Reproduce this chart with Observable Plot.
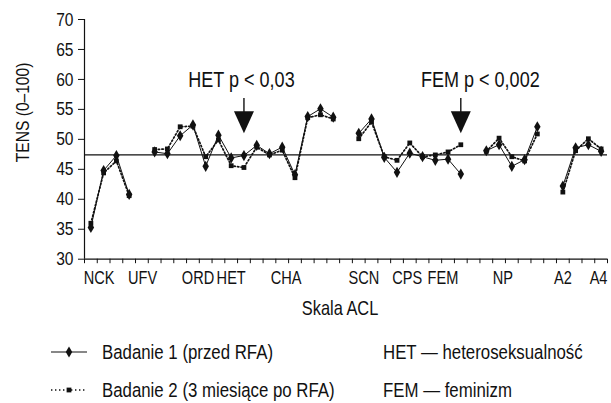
<!DOCTYPE html>
<html><head><meta charset="utf-8">
<script src="https://cdn.jsdelivr.net/npm/d3@7"></script>
<script src="https://cdn.jsdelivr.net/npm/@observablehq/plot@0.6"></script>
<style>
body{margin:0;background:#fff;font-family:"Liberation Sans",Arial,sans-serif;color:#111}
#wrap{position:relative;width:611px;height:403px;overflow:hidden;background:#fff}
#legend{position:absolute;left:0;top:330px;width:611px;height:73px;font-size:20.5px}
.item{position:absolute;display:flex;align-items:center;height:26px;white-space:nowrap}
.item svg{display:block}
.narrow{display:inline-block;transform:scaleX(0.82);transform-origin:left center}
</style></head><body><div id="wrap"><div id="chart"></div><div id="legend"></div></div>
<script>
// TENS (0–100) per ACL scale slot; null = gap between scale groups
const slots = [0,1,2,3,4,5,6,7,8,9,10,11,12,13,14,15,16,17,18,19,20,21,22,23,24,25,26,27,28,29,30,31,32,33,34,35,36,37,38,39,40];
const badanie1 = [35.3,44.8,47.3,40.8,null, 47.9,47.6,50.6,52.4,45.5,50.7,46.9,47.3,49.0,47.6,48.7,44.1,53.8,55.1,53.7,null, 51.0,53.4,47.0,44.5,47.7,47.1,46.5,46.7,44.2,null, 48.1,49.1,45.5,46.6,52.1,null, 42.2,48.6,49.1,48.0];
const badanie2 = [36.0,44.4,46.4,40.6,null, 48.3,48.4,52.1,52.2,47.1,49.9,45.6,45.3,48.7,47.4,48.2,43.6,53.6,54.1,53.4,null, 50.1,52.9,47.1,46.5,49.4,47.1,47.4,47.9,49.1,null, 48.0,50.2,47.1,46.4,50.9,null, 41.2,48.1,50.1,48.4];
const tickLabels = ["NCK","UFV","ORD","HET","CHA","SCN","CPS","FEM","NP","A2","A4"];
const tickLabelSlots = [0.65,4.05,8.4,11.0,15.3,21.4,24.8,27.6,32.3,37.0,39.8];
const yTicks = [30,35,40,45,50,55,60,65,70];
const referenceLine = 47.4;
const annotations = [{label:"HET p < 0,03", slot:12},{label:"FEM p < 0,002", slot:29}];
const seriesNames = ["Badanie 1 (przed RFA)","Badanie 2 (3 miesiące po RFA)"];
const glossary = ["HET — heteroseksualność","FEM — feminizm"];

const rows1 = slots.map((s,i)=>({slot:s, value:badanie1[i]}));
const rows2 = slots.map((s,i)=>({slot:s, value:badanie2[i]}));
const boundaries = slots.map(s=>s-0.5).concat([slots[slots.length-1]+0.5]);
const labelMap = new Map(tickLabelSlots.map((p,i)=>[p,tickLabels[i]]));

const downTriangle = {draw(ctx,size){const r=Math.sqrt(size/Math.PI);ctx.moveTo(-r,-1.1*r);ctx.lineTo(r,-1.1*r);ctx.lineTo(0,1.1*r);ctx.closePath();}};
const FONT = '"Liberation Sans",Arial,sans-serif';
const H = 330;
const ink = "#111";

const chart = Plot.plot({
  width:611, height:H,
  marginLeft:84, marginRight:4, marginTop:19, marginBottom:H-258.7,
  x:{domain:[-0.5,40.5]},
  y:{domain:[30,70]},
  style:{fontFamily:FONT, fontSize:"19px", color:ink, background:"#fff", overflow:"visible"},
  marks:[
    Plot.axisY(yTicks,{tickSize:6, tickPadding:5, label:null, fontSize:19, stroke:ink}),
    Plot.axisX(boundaries,{tickSize:4.5, tickFormat:()=>"", label:null, stroke:ink}),
    Plot.axisX(tickLabelSlots,{tickSize:0, tickPadding:12, tickFormat:d=>labelMap.get(d), label:null, fontSize:17.8}),
    Plot.ruleX([-0.5],{stroke:ink, strokeWidth:1.2}),
    Plot.ruleY([30],{stroke:ink, strokeWidth:1.2}),
    Plot.ruleY([referenceLine],{stroke:ink, strokeWidth:1.3}),
    Plot.line(rows2,{x:"slot", y:"value", stroke:ink, strokeWidth:1.7, strokeDasharray:"1.4,2.2"}),
    Plot.dot(rows2,{x:"slot", y:"value", symbol:"square", fill:ink, r:2.7}),
    Plot.line(rows1,{x:"slot", y:"value", stroke:ink, strokeWidth:1}),
    Plot.dot(rows1,{x:"slot", y:"value", symbol:"diamond", fill:ink, r:3.4}),
    Plot.ruleX(annotations,{x:"slot", y1:56.8, y2:54.4, stroke:ink, strokeWidth:1.4}),
    Plot.dot(annotations,{x:"slot", y:52.87, symbol:downTriangle, r:10, fill:ink}),
    Plot.text([annotations[0]],{x:"slot", y:59.95, text:"label", dx:-2.5, fontSize:22, lineAnchor:"middle", textAnchor:"middle", fill:ink}),
    Plot.text([annotations[1]],{x:"slot", y:59.95, text:"label", dx:19.5, fontSize:22, lineAnchor:"middle", textAnchor:"middle", fill:ink}),
    Plot.text(["TENS (0–100)"],{frameAnchor:"left", y:54.5, rotate:-90, dx:-62, fontSize:19, textAnchor:"middle", lineAnchor:"middle", fill:ink}),
    Plot.text(["Skala ACL"],{frameAnchor:"bottom", dy:49.5, dx:-6, fontSize:20, textAnchor:"middle", lineAnchor:"middle", fill:ink})
  ]
});
// condensed look (Helvetica Condensed-like): squeeze each text horizontally about its anchor
chart.querySelectorAll("text").forEach(t=>{
  const tr=t.getAttribute("transform")||"";
  t.setAttribute("transform", tr+" scale(0.82,1)");
});
document.getElementById("chart").appendChild(chart);

const legend = document.getElementById("legend");
function marker(dashed){
  const ns="http://www.w3.org/2000/svg";
  const svg=document.createElementNS(ns,"svg");
  svg.setAttribute("width","38");svg.setAttribute("height","14");
  const line=document.createElementNS(ns,"line");
  line.setAttribute("x1","1");line.setAttribute("x2","37");
  line.setAttribute("y1","7");line.setAttribute("y2","7");
  line.setAttribute("stroke",ink);
  if(dashed){line.setAttribute("stroke-width","1.7");line.setAttribute("stroke-dasharray","1.4,2.6");}
  else line.setAttribute("stroke-width","1.2");
  svg.appendChild(line);
  const m=document.createElementNS(ns,"path");
  m.setAttribute("transform","translate(19,7)");
  m.setAttribute("d", dashed? d3.symbol(d3.symbolSquare, 2.7*2.7*Math.PI)() : d3.symbol(d3.symbolDiamond, 3.4*3.4*Math.PI)());
  m.setAttribute("fill",ink);
  svg.appendChild(m);
  return svg;
}
seriesNames.forEach((name,i)=>{
  const it=document.createElement("div");it.className="item";
  it.style.left="50px";it.style.top=(9+i*38)+"px";
  const mk=marker(i===1);mk.style.marginRight="14px";
  it.appendChild(mk);
  const t=document.createElement("span");t.className="narrow";t.textContent=name;it.appendChild(t);
  legend.appendChild(it);
});
glossary.forEach((g,i)=>{
  const it=document.createElement("div");it.className="item";
  it.style.left="383px";it.style.top=(9+i*38)+"px";
  const t=document.createElement("span");t.className="narrow";t.textContent=g;it.appendChild(t);
  legend.appendChild(it);
});
</script></body></html>
